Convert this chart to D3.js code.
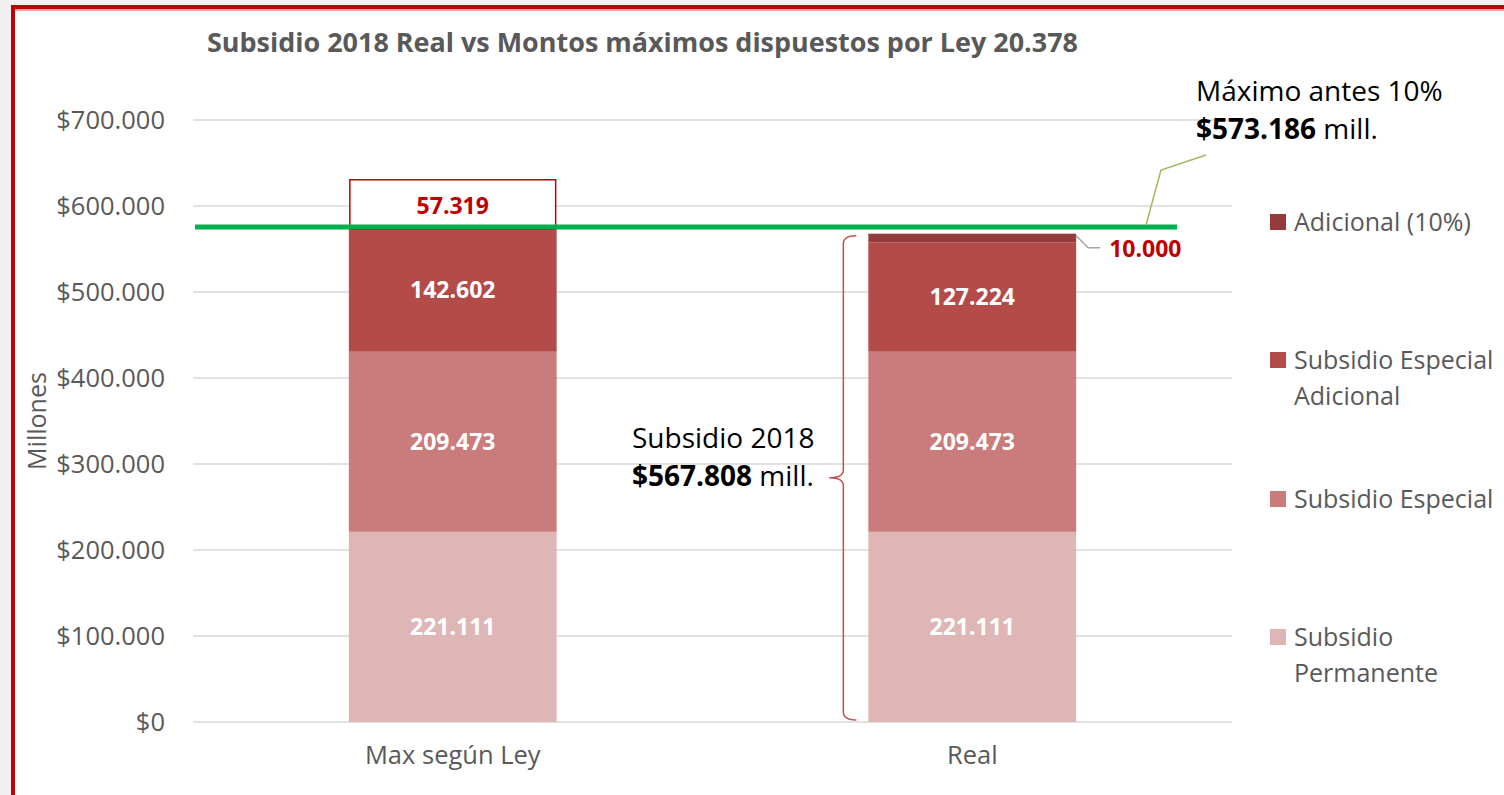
<!DOCTYPE html>
<html>
<head>
<meta charset="utf-8">
<script src="https://cdn.jsdelivr.net/npm/d3@7"></script>
<style>
    body { margin: 0; background: #f0f0f0; }
    svg { display: block; }
    text { font-family: "Open Sans", Lato, sans-serif; }
</style>
</head>
<body>
<div id="chart"></div>
<script>
// data (millones de pesos)
const categories = ["Max según Ley", "Real"];
const seriesNames = ["Subsidio Permanente", "Subsidio Especial", "Subsidio Especial Adicional", "Adicional (10%)"];
const permanente = [221111, 221111];
const especial = [209473, 209473];
const especialAdicional = [142602, 127224];
const adicional10 = [57319, 10000];
const maximoAntes10 = 573186;
const subsidio2018 = 567808;
const yTicks = [0, 100000, 200000, 300000, 400000, 500000, 600000, 700000];

const colors = ["#dfb6b6", "#c97c7b", "#b34b49", "#963b3b"];

const W = 1504, H = 795;
const margin = {top: 120, left: 193, right: 272, bottom: 73};
const plotW = W - margin.left - margin.right;
const plotH = H - margin.top - margin.bottom;

const numFmt = v => d3.format(",")(v).replace(/,/g, ".");

const svg = d3.select("#chart").append("svg")
    .attr("width", W)
    .attr("height", H);

// frame
svg.append("rect").attr("x", 13).attr("y", 7).attr("width", W).attr("height", H)
    .attr("fill", "#fff");
svg.append("line").attr("x1", 13).attr("x2", W).attr("y1", 10).attr("y2", 10)
    .attr("stroke", "#f4a6a6").attr("stroke-width", 2);
svg.append("path").attr("d", `M13,${H} V7 H${W}`)
    .attr("fill", "none").attr("stroke", "#c00000").attr("stroke-width", 4);

const g = svg.append("g").attr("transform", `translate(${margin.left},${margin.top})`);

const x = d3.scaleBand().domain(categories).range([0, plotW]).paddingInner(0.6).paddingOuter(0.3);
const y = d3.scaleLinear().domain([0, 700000]).range([plotH, 0]);

// gridlines
g.append("g").selectAll("line").data(yTicks).join("line")
    .attr("x1", 0).attr("x2", plotW)
    .attr("y1", d => y(d)).attr("y2", d => y(d))
    .attr("stroke", "#d9d9d9").attr("stroke-width", 1.5);

// axes
const yAxis = d3.axisLeft(y).tickValues(yTicks).tickSize(0).tickPadding(28)
    .tickFormat(d => "$" + numFmt(d));
g.append("g").call(yAxis)
    .call(a => a.select(".domain").remove())
    .selectAll("text")
    .attr("font-size", 25.5).attr("fill", "#595959")
    .style("font-family", "'Open Sans', sans-serif");

const xAxis = d3.axisBottom(x).tickSize(0).tickPadding(24);
g.append("g").attr("transform", `translate(0,${plotH})`).call(xAxis)
    .call(a => a.select(".domain").remove())
    .selectAll("text")
    .attr("font-size", 25.5).attr("fill", "#595959")
    .style("font-family", "'Open Sans', sans-serif");

// stacked data
const rows = categories.map((c, i) => ({
    cat: c, p: permanente[i], e: especial[i], ea: especialAdicional[i], a: adicional10[i]
}));
const stack = d3.stack().keys(["p", "e", "ea", "a"]);
const layers = stack(rows);

layers.forEach((layer, li) => {
    layer.forEach((d, ci) => {
        const isBox = li === 3 && ci === 0;
        g.append("rect")
            .attr("x", x(d.data.cat) + (isBox ? 1 : 0))
            .attr("y", y(d[1]))
            .attr("width", x.bandwidth() - (isBox ? 2 : 0))
            .attr("height", y(d[0]) - y(d[1]))
            .attr("fill", isBox ? "#fff" : colors[li])
            .attr("stroke", isBox ? "#c00000" : "none")
            .attr("stroke-width", 1.5);
    });
});

// bar labels
layers.forEach((layer, li) => {
    layer.forEach((d, ci) => {
        const lbl = numFmt(d[1] - d[0]);
        if (li === 3 && ci === 1) {
            // leader label outside the bar
            const x0 = x(d.data.cat) + x.bandwidth();
            const yy = y(d[1]);
            g.append("path")
                .attr("d", `M${x0},${yy + 2} L${x0 + 12},${yy + 14} H${x0 + 24}`)
                .attr("fill", "none").attr("stroke", "#a6a6a6").attr("stroke-width", 1.5);
            g.append("text").attr("x", x0 + 33).attr("y", yy + 15).attr("dy", "0.35em")
                .attr("font-size", 23).attr("font-weight", "bold").attr("fill", "#c00000")
                .text(lbl);
            return;
        }
        g.append("text")
            .attr("x", x(d.data.cat) + x.bandwidth() / 2)
            .attr("y", (li === 3 ? y(d[1]) + 26 : (y(d[0]) + y(d[1])) / 2))
            .attr("dy", "0.35em")
            .attr("text-anchor", "middle")
            .attr("font-size", 23).attr("font-weight", "bold")
            .attr("fill", li === 3 ? "#c00000" : "#fff")
            .text(lbl);
    });
});

// green max line
const yMax = y(maximoAntes10);
g.append("line").attr("x1", 2).attr("x2", plotW - 55)
    .attr("y1", yMax - 2).attr("y2", yMax - 2)
    .attr("stroke", "#00b050").attr("stroke-width", 5);
g.append("path")
    .attr("d", `M${plotW - 86},${yMax - 4} L${plotW - 71},${yMax - 59} L${plotW - 26},${yMax - 74}`)
    .attr("fill", "none").attr("stroke", "#9bbb59").attr("stroke-width", 1.5);

const t1 = g.append("text").attr("x", plotW - 36).attr("y", -19).attr("font-size", 28).attr("fill", "#000");
t1.text("Máximo antes 10%");
const t2 = g.append("text").attr("x", plotW - 36).attr("y", 19).attr("font-size", 28).attr("fill", "#000");
t2.append("tspan").attr("font-weight", "bold").text("$" + numFmt(maximoAntes10));
t2.append("tspan").text(" mill.");

// brace for Real total
const yTop = y(subsidio2018) + 2, yBot = y(0) - 2;
const bx = x("Real") - 25, yMid = (yTop + yBot) / 2;
g.append("path")
    .attr("d", `M${bx + 13},${yTop} Q${bx},${yTop} ${bx},${yTop + 8} V${yMid - 8} Q${bx},${yMid} ${bx - 14},${yMid} Q${bx},${yMid} ${bx},${yMid + 8} V${yBot - 8} Q${bx},${yBot} ${bx + 13},${yBot}`)
    .attr("fill", "none").attr("stroke", "#c0504d").attr("stroke-width", 1.5);

const s1 = g.append("text").attr("x", 632 - margin.left).attr("y", 448 - margin.top).attr("font-size", 28).attr("fill", "#000");
s1.text("Subsidio 2018");
const s2 = g.append("text").attr("x", 632 - margin.left).attr("y", 486 - margin.top).attr("font-size", 28).attr("fill", "#000");
s2.append("tspan").attr("font-weight", "bold").text("$" + numFmt(subsidio2018));
s2.append("tspan").text(" mill.");

// y axis title
svg.append("text")
    .attr("transform", "translate(46,421) rotate(-90)")
    .attr("text-anchor", "middle")
    .attr("font-size", 25).attr("fill", "#595959")
    .text("Millones");

// title
svg.append("text").attr("x", 207).attr("y", 52)
    .attr("font-size", 26.8).attr("font-weight", "bold").attr("fill", "#595959")
    .attr("textLength", 871).attr("lengthAdjust", "spacingAndGlyphs")
    .text("Subsidio 2018 Real vs Montos máximos dispuestos por Ley 20.378");

// legend (reversed stack order)
const legendItems = [
    {name: ["Adicional (10%)"], c: colors[3], y: 222},
    {name: ["Subsidio Especial", "Adicional"], c: colors[2], y: 360},
    {name: ["Subsidio Especial"], c: colors[1], y: 499},
    {name: ["Subsidio", "Permanente"], c: colors[0], y: 637}
];
const leg = svg.append("g");
legendItems.forEach(it => {
    leg.append("rect").attr("x", 1270).attr("y", it.y - 8).attr("width", 16).attr("height", 16).attr("fill", it.c);
    it.name.forEach((n, k) => {
        leg.append("text").attr("x", 1294).attr("y", it.y + k * 36).attr("dy", "0.35em")
            .attr("font-size", 25).attr("fill", "#595959").text(n);
    });
});
</script>
</body>
</html>
